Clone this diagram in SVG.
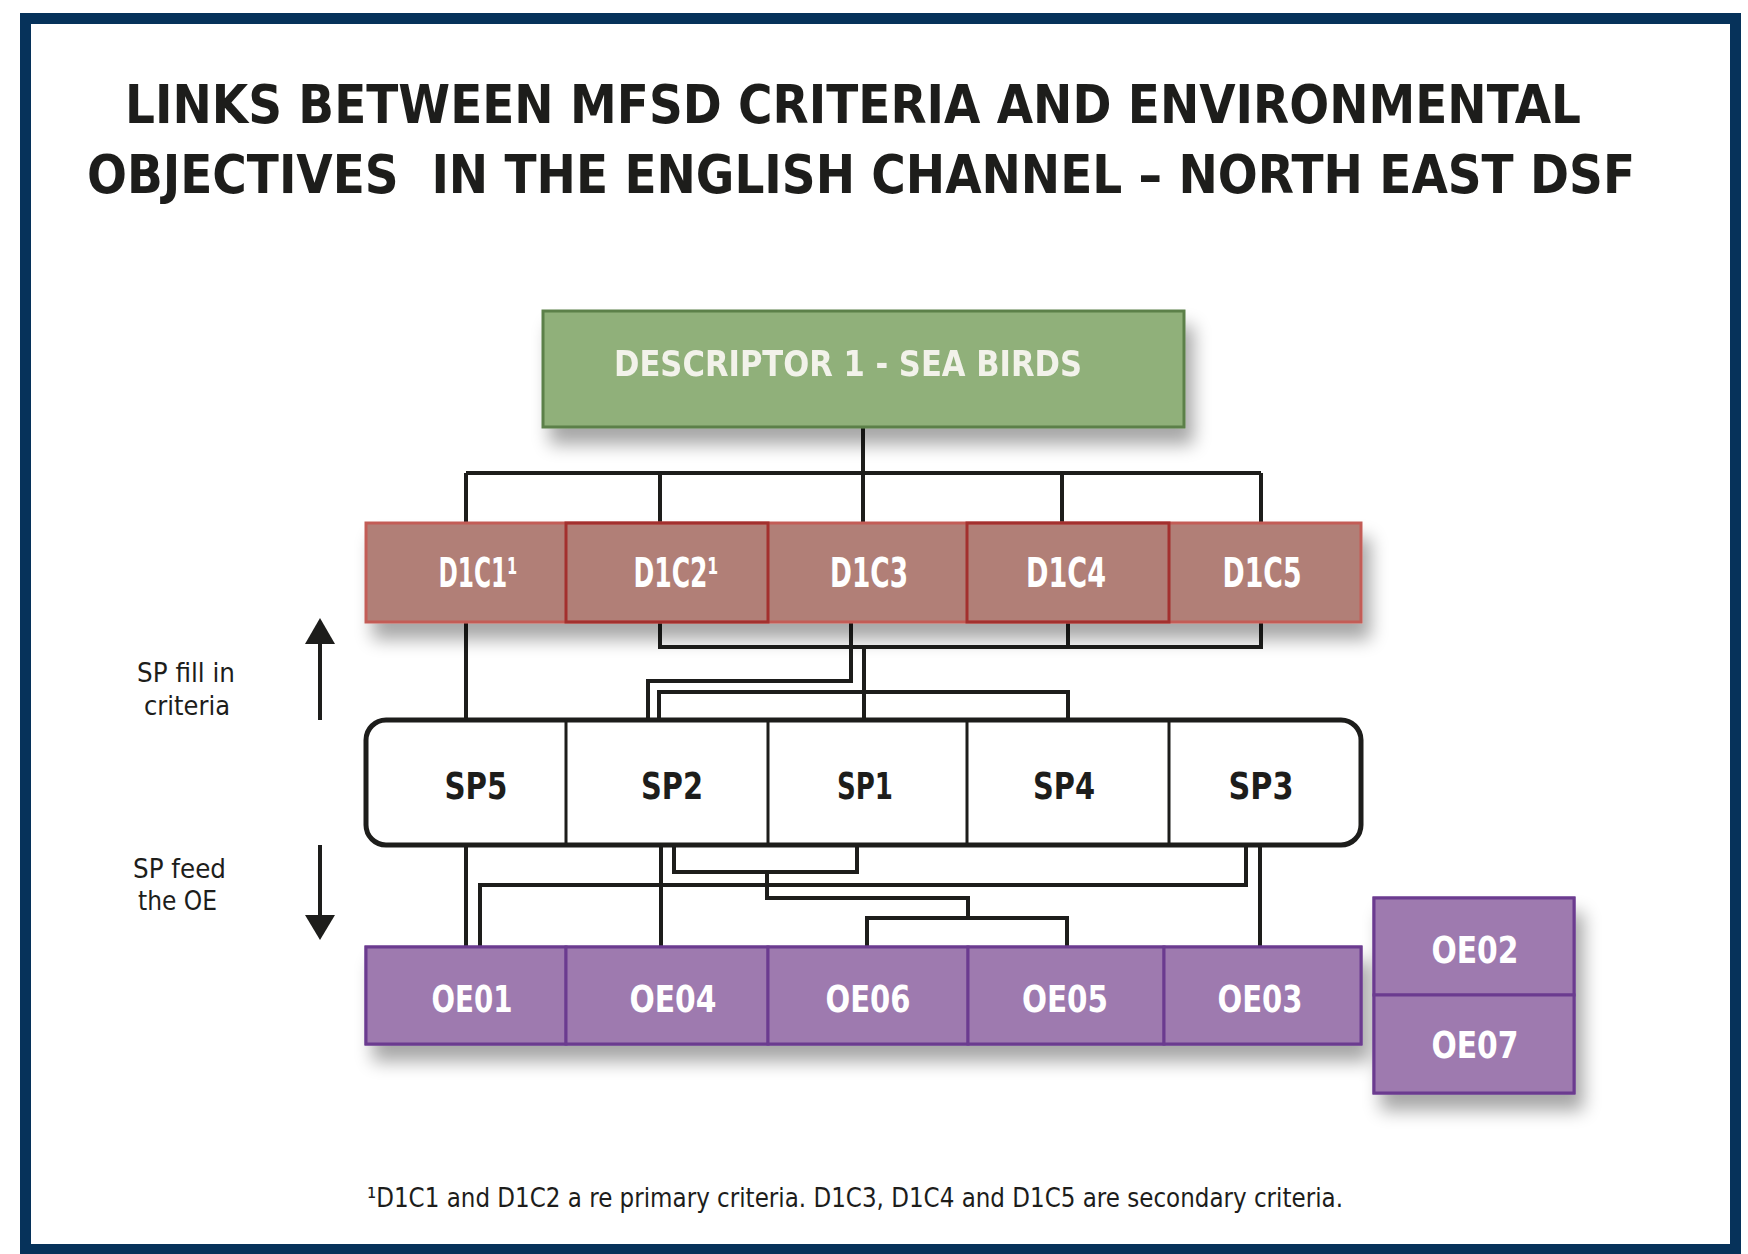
<svg xmlns="http://www.w3.org/2000/svg" width="1748" height="1254" viewBox="0 0 1748 1254">
<defs>
<filter id="sh" x="-10%" y="-20%" width="130%" height="160%">
<feGaussianBlur in="SourceAlpha" stdDeviation="9"/>
<feOffset dx="8" dy="16" result="b"/>
<feComponentTransfer><feFuncA type="linear" slope="0.35"/></feComponentTransfer>
<feMerge><feMergeNode/><feMergeNode in="SourceGraphic"/></feMerge>
</filter>
</defs>
<style>
.t{font-family:"DejaVu Sans Condensed","DejaVu Sans",sans-serif;font-weight:bold;fill:#1d1d1b}
.w{font-family:"DejaVu Sans Condensed","DejaVu Sans",sans-serif;font-weight:bold;fill:#ffffff;text-anchor:middle}
.n{font-family:"DejaVu Sans Condensed","DejaVu Sans",sans-serif;fill:#1d1d1b}
.c{fill:none;stroke:#1d1d1b;stroke-width:4}
.d1{fill:#b17f77;stroke:#c35c56;stroke-width:3}
.d1b{fill:none;stroke:#a3302e;stroke-width:3}
.oe{fill:#9e7aaf;stroke:#6b3b8f;stroke-width:3}
</style>
<rect x="25.5" y="18.5" width="1710" height="1231" fill="#ffffff" stroke="#06325a" stroke-width="11"/>
<text class="t" x="125" y="123" font-size="54" textLength="1456" lengthAdjust="spacingAndGlyphs">LINKS BETWEEN MFSD CRITERIA AND ENVIRONMENTAL</text>
<text class="t" x="87" y="193" font-size="54" textLength="1548" lengthAdjust="spacingAndGlyphs" style="white-space:pre">OBJECTIVES  IN THE ENGLISH CHANNEL – NORTH EAST DSF</text>

<g id="connectors">
<path class="c" d="M863 427V473M466 473H1261M466 473V523M660 473V523M863 473V523M1062 473V523M1261 473V523"/>
<path class="c" d="M466 622V720M660 622V647H1261V622M851 622V647M1068 622V647M851 647V681H648V720M864 647V720M659 720V692H1068V720"/>
<path class="c" d="M466 845V947M1246 845V885H480V947M661 845V947M674 845V872H857V845M767 872V898H968V918M867 947V918H1067V947M1260 845V947"/>
<path d="M320 720V640M320 845V918" stroke="#1d1d1b" stroke-width="4"/>
<polygon points="305,644 335,644 320,618" fill="#1d1d1b"/>
<polygon points="305,915 335,915 320,940" fill="#1d1d1b"/>
</g>

<g id="descriptor" filter="url(#sh)">
<rect x="543" y="311" width="641" height="116" fill="#90b07a" stroke="#5b8048" stroke-width="3"/>
<text x="848" y="376" font-size="36" class="w" textLength="468" lengthAdjust="spacingAndGlyphs" style="fill:#f2f2ea">DESCRIPTOR 1 - SEA BIRDS</text>
</g>

<g id="d1c-row" filter="url(#sh)">
<rect class="d1" x="366" y="523" width="995" height="99"/>
<line x1="768" y1="523" x2="768" y2="622" stroke="#c35c56" stroke-width="2"/>
<line x1="1169" y1="523" x2="1169" y2="622" stroke="#c35c56" stroke-width="2"/>
</g>
<g id="D1C1"><text class="w" x="478" y="587" font-size="40" textLength="79" lengthAdjust="spacingAndGlyphs">D1C1¹</text></g>
<g id="D1C2"><rect class="d1b" x="566" y="523" width="202" height="99"/><text class="w" x="676" y="587" font-size="40" textLength="85" lengthAdjust="spacingAndGlyphs">D1C2¹</text></g>
<g id="D1C3"><text class="w" x="869" y="587" font-size="40" textLength="78" lengthAdjust="spacingAndGlyphs">D1C3</text></g>
<g id="D1C4"><rect class="d1b" x="967" y="523" width="202" height="99"/><text class="w" x="1066" y="587" font-size="40" textLength="80" lengthAdjust="spacingAndGlyphs">D1C4</text></g>
<g id="D1C5"><text class="w" x="1262" y="587" font-size="40" textLength="79" lengthAdjust="spacingAndGlyphs">D1C5</text></g>

<g id="sp-row">
<rect x="366" y="720" width="995" height="125" rx="20" fill="#ffffff" stroke="#1d1d1b" stroke-width="5"/>
<path d="M566 720V845M768 720V845M967 720V845M1169 720V845" stroke="#1d1d1b" stroke-width="3"/>
</g>
<g id="SP5"><text class="t" x="476" y="799" font-size="37" text-anchor="middle" textLength="63" lengthAdjust="spacingAndGlyphs">SP5</text></g>
<g id="SP2"><text class="t" x="672" y="799" font-size="37" text-anchor="middle" textLength="62" lengthAdjust="spacingAndGlyphs">SP2</text></g>
<g id="SP1"><text class="t" x="865" y="799" font-size="37" text-anchor="middle" textLength="56" lengthAdjust="spacingAndGlyphs">SP1</text></g>
<g id="SP4"><text class="t" x="1064" y="799" font-size="37" text-anchor="middle" textLength="62" lengthAdjust="spacingAndGlyphs">SP4</text></g>
<g id="SP3"><text class="t" x="1261" y="799" font-size="37" text-anchor="middle" textLength="65" lengthAdjust="spacingAndGlyphs">SP3</text></g>

<g id="oe-row" filter="url(#sh)">
<rect class="oe" x="366" y="947" width="995" height="97"/>
<rect class="oe" x="1374" y="898" width="200" height="195"/>
</g>
<g id="OE01"><rect class="oe" x="366" y="947" width="200" height="97"/><text class="w" x="472" y="1012" font-size="38" textLength="81" lengthAdjust="spacingAndGlyphs">OE01</text></g>
<g id="OE04"><rect class="oe" x="566" y="947" width="202" height="97"/><text class="w" x="673" y="1012" font-size="38" textLength="87" lengthAdjust="spacingAndGlyphs">OE04</text></g>
<g id="OE06"><rect class="oe" x="768" y="947" width="200" height="97"/><text class="w" x="868" y="1012" font-size="38" textLength="85" lengthAdjust="spacingAndGlyphs">OE06</text></g>
<g id="OE05"><rect class="oe" x="968" y="947" width="196" height="97"/><text class="w" x="1065" y="1012" font-size="38" textLength="86" lengthAdjust="spacingAndGlyphs">OE05</text></g>
<g id="OE03"><rect class="oe" x="1164" y="947" width="197" height="97"/><text class="w" x="1260" y="1012" font-size="38" textLength="85" lengthAdjust="spacingAndGlyphs">OE03</text></g>
<g id="OE02"><rect class="oe" x="1374" y="898" width="200" height="97"/><text class="w" x="1475" y="963" font-size="38" textLength="87" lengthAdjust="spacingAndGlyphs">OE02</text></g>
<g id="OE07"><rect class="oe" x="1374" y="995" width="200" height="98"/><text class="w" x="1475" y="1058" font-size="38" textLength="87" lengthAdjust="spacingAndGlyphs">OE07</text></g>

<g id="labels">
<text class="n" x="137" y="682" font-size="27" textLength="98" lengthAdjust="spacingAndGlyphs">SP fill in</text>
<text class="n" x="144" y="715" font-size="27" textLength="86" lengthAdjust="spacingAndGlyphs">criteria</text>
<text class="n" x="133" y="878" font-size="27" textLength="93" lengthAdjust="spacingAndGlyphs">SP feed</text>
<text class="n" x="138" y="910" font-size="27" textLength="79" lengthAdjust="spacingAndGlyphs">the OE</text>
<text class="n" x="367" y="1207" font-size="26" textLength="976" lengthAdjust="spacingAndGlyphs">¹D1C1 and D1C2 a re primary criteria. D1C3, D1C4 and D1C5 are secondary criteria.</text>
</g>
</svg>
